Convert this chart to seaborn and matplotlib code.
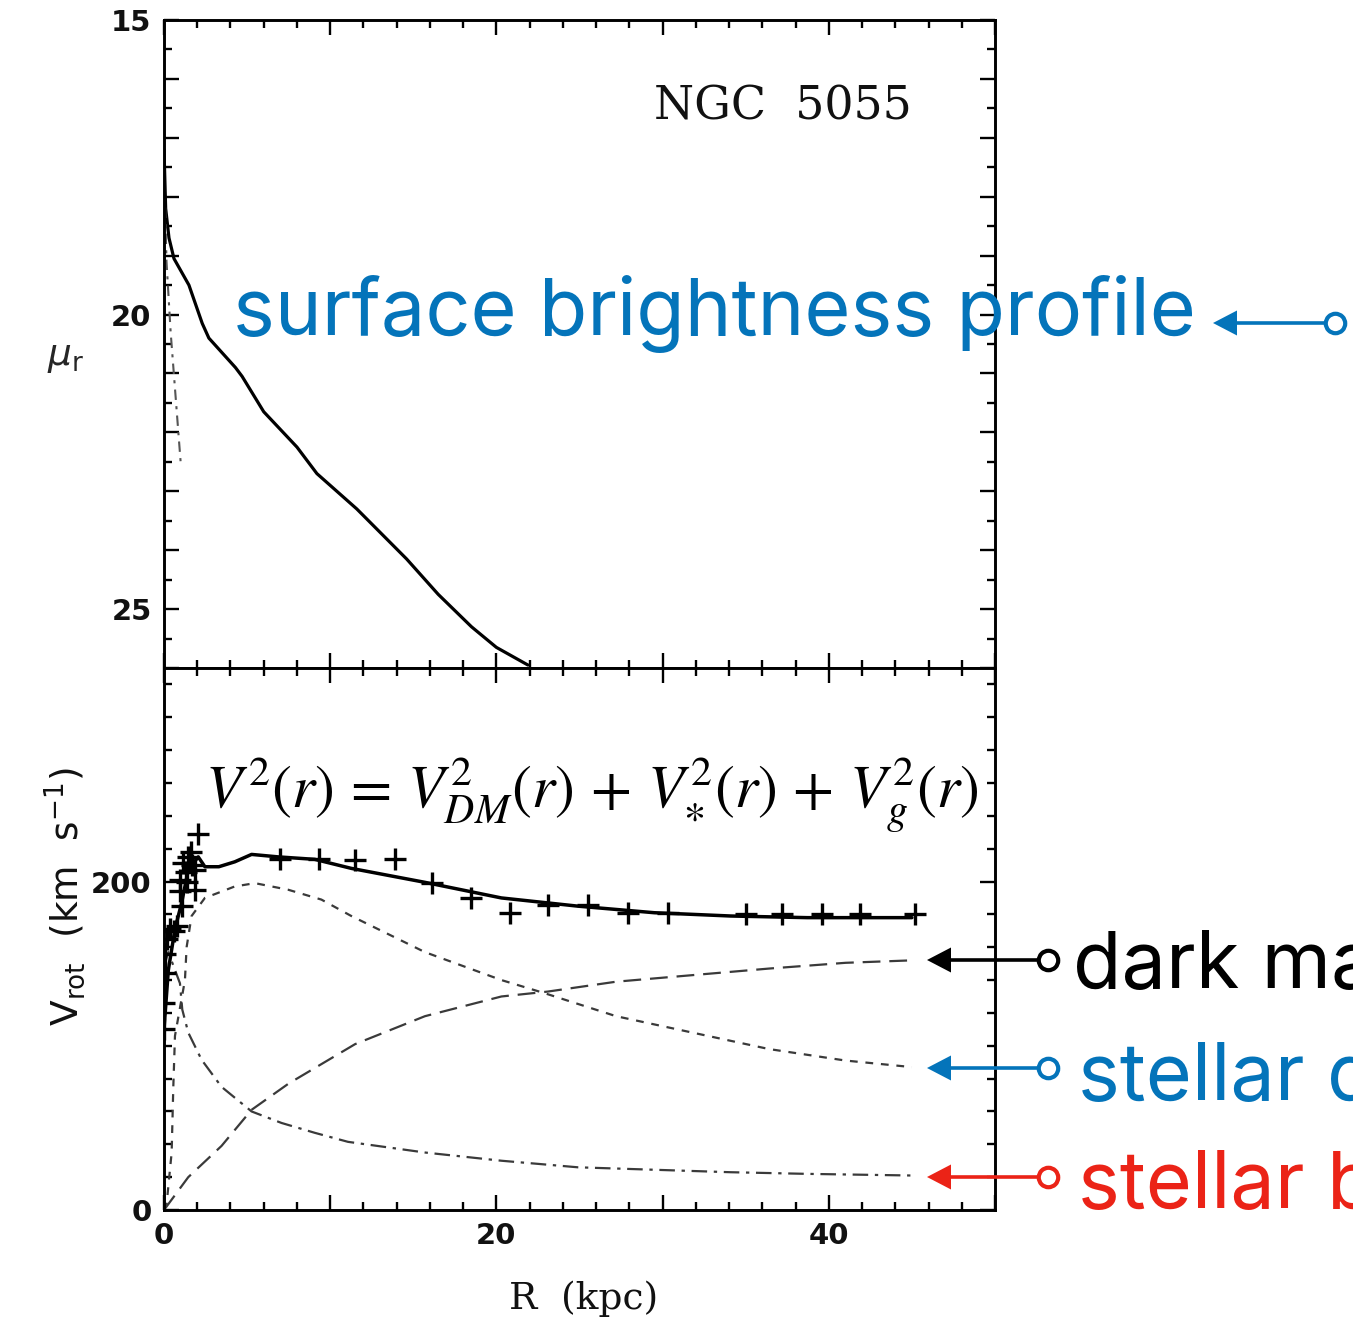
import numpy as np
import pandas as pd
import matplotlib
matplotlib.use("Agg")
import matplotlib.pyplot as plt
import seaborn as sns
from matplotlib.ticker import MultipleLocator, FuncFormatter
from matplotlib.lines import Line2D
from matplotlib.patches import Polygon

# ---------------- data ----------------
# r-band surface brightness profile of NGC 5055 (mag arcsec^-2)
sb_R = [0.0, 0.1, 0.3, 0.6, 1.5, 2.3, 2.7, 4.3, 4.7, 6.0, 8.0, 9.2, 11.6,
        14.6, 16.5, 18.5, 20.0, 21.9]
sb_mu = [17.2, 18.2, 18.7, 19.05, 19.5, 20.15, 20.4, 20.9, 21.05, 21.65,
         22.25, 22.7, 23.3, 24.15, 24.75, 25.3, 25.65, 25.95]

# bulge part of the light profile
bsb_R = [0.0, 0.05, 0.15, 0.4, 0.7, 1.0]
bsb_mu = [17.3, 18.0, 19.1, 20.3, 21.4, 22.5]

# observed rotation velocities (km/s)
obs_R = [0.0, 0.0, 0.06, 0.06, 0.2, 0.36, 0.6, 0.76, 0.96, 0.96, 1.1, 1.16,
         1.3, 1.4, 1.46, 1.6, 1.7, 1.86, 1.86, 2.06,
         7.0, 9.3, 11.5, 13.9, 16.1, 18.5, 20.8, 23.1, 25.5, 27.9, 30.3,
         35.0, 37.2, 39.6, 41.9, 45.2]
obs_V = [110, 126, 144, 156, 165, 171, 170, 173, 194, 201, 185, 211,
         206, 200, 215, 218, 210, 207, 195, 229,
         214, 214, 213, 214, 199, 190, 181, 186, 186, 181, 181,
         180, 180, 180, 180, 180]

# model rotation curve and its components (km/s)
tot_R = [0.0, 0.26, 0.66, 1.06, 1.46, 2.06, 2.46, 3.3, 4.26, 5.27, 6.87,
         9.07, 11.27, 15.7, 20.3, 24.9, 29.5, 34.1, 38.7, 45.0]
tot_V = [110, 146, 171, 187, 207, 215, 209, 209, 212, 216.5, 215, 213.5,
         208, 199.5, 190, 185, 181, 179, 178, 178]

disk_R = [0.0, 0.16, 0.46, 0.56, 0.66, 1.26, 1.36, 1.66, 2.46, 4.26, 5.47,
          7.47, 9.47, 11.27, 15.7, 20.3, 22.9, 27.2, 31.8, 36.4, 41.0, 45.0]
disk_V = [0, 4, 35, 75, 106, 140, 160, 179, 190, 197, 199, 195, 189, 179,
          157, 140, 132, 118, 108, 98, 91, 87]

halo_R = [0.0, 1.46, 3.46, 5.27, 7.5, 9.5, 11.5, 15.7, 20.3, 23.1, 27.2,
          31.8, 36.4, 41.0, 45.0]
halo_V = [0, 20, 39, 61, 77, 89, 101, 118, 130, 133, 139, 143, 147, 150.5,
          152]

bulge_R = [0.05, 0.26, 0.96, 1.1, 1.46, 2.26, 3.46, 5.27, 7.07, 9.07, 11.07,
           15.7, 20.3, 24.9, 29.5, 34.1, 38.7, 45.0]
bulge_V = [150, 157, 138, 122, 108, 91.5, 75, 60, 53, 47, 41.5, 35, 30, 26,
           24.5, 23, 22, 21]

x_ticks_labelled = [0, 20, 40]
mu_ticks_labelled = [15, 20, 25]
v_ticks_labelled = [0, 200]

# ---------------- style ----------------
sns.set_theme(style="ticks")
plt.rcParams["font.family"] = ["DejaVu Sans"]
plt.rcParams["mathtext.fontset"] = "dejavusans"

BLUE = "#0474BA"
RED = "#EB2317"
GREY = "#3a3a3a"

W, H, DPI = 1353, 1327, 100
fig = plt.figure(figsize=(W / DPI, H / DPI), dpi=DPI)
fig.patch.set_facecolor("white")


def fx(px):
    return px / W


def fy(py):
    return 1 - py / H


L, R_ = 164, 995
ax_top = fig.add_axes([fx(L), fy(668), (R_ - L) / W, (668 - 20) / H])
ax_bot = fig.add_axes([fx(L), fy(1210), (R_ - L) / W, (1210 - 668) / H])

# ---------------- surface brightness panel ----------------
sns.lineplot(data=pd.DataFrame({"R": sb_R, "mu": sb_mu}), x="R", y="mu",
             ax=ax_top, color="black", lw=2.3, estimator=None, sort=False)
sns.lineplot(data=pd.DataFrame({"R": bsb_R, "mu": bsb_mu}), x="R", y="mu",
             ax=ax_top, color="#555555", lw=1.5, dashes=(5, 3, 1.5, 3),
             estimator=None, sort=False)
ax_top.set_xlim(0, 50)
ax_top.set_ylim(26, 15)
ax_top.set_xlabel("")
ax_top.set_ylabel(r"$\mu_\mathregular{r}$", rotation=0, ha="center",
                  va="center", fontsize=27)
ax_top.yaxis.set_label_coords(-0.118, 0.48)
ax_top.text(0.745, 0.866, "NGC  5055", transform=ax_top.transAxes,
            ha="center", va="center", fontsize=33, family="DejaVu Serif",
            color="#111111")

# ---------------- rotation curve panel ----------------
curves = pd.concat([
    pd.DataFrame({"R": tot_R, "V": tot_V, "curve": "total"}),
    pd.DataFrame({"R": disk_R, "V": disk_V, "curve": "disk"}),
    pd.DataFrame({"R": halo_R, "V": halo_V, "curve": "halo"}),
    pd.DataFrame({"R": bulge_R, "V": bulge_V, "curve": "bulge"}),
], ignore_index=True)

sns.lineplot(data=curves, x="R", y="V", hue="curve", style="curve",
             size="curve",
             palette={"total": "black", "disk": GREY, "halo": GREY,
                      "bulge": GREY},
             dashes={"total": "", "disk": (3.5, 3.5), "halo": (8, 4),
                     "bulge": (7, 3, 1.5, 3)},
             sizes={"total": 2.5, "disk": 1.6, "halo": 1.6, "bulge": 1.6},
             estimator=None, sort=False, legend=False, ax=ax_bot)
sns.scatterplot(x=obs_R, y=obs_V, marker="+", s=260, color="black",
                linewidth=2.4, ax=ax_bot, zorder=4)

ax_bot.set_xlim(0, 50)
ax_bot.set_ylim(0, 330)
ax_bot.set_xlabel("R  (kpc)", family="DejaVu Serif", fontsize=27,
                  color="#111111")
ax_bot.xaxis.set_label_coords(0.505, -0.13)
ax_bot.set_ylabel(r"$\mathregular{V_{rot}\ \ (km\ \ s^{-1})}$", fontsize=27,
                  color="#111111")
ax_bot.yaxis.set_label_coords(-0.092, 0.578)

# ---------------- ticks and frames ----------------
for ax in (ax_top, ax_bot):
    ax.xaxis.set_major_locator(MultipleLocator(10))
    ax.xaxis.set_minor_locator(MultipleLocator(2))
    ax.xaxis.set_major_formatter(FuncFormatter(
        lambda v, _: f"{v:g}" if round(v) in x_ticks_labelled else ""))
    ax.tick_params(which="both", direction="in", top=True, right=True,
                   width=1.7, color="black", labelsize=21,
                   labelcolor="#111111")
    ax.tick_params(which="major", length=11, pad=9)
    ax.tick_params(which="minor", length=5.5)
    for s in ax.spines.values():
        s.set_linewidth(2.1)
        s.set_color("black")

ax_top.tick_params(labelbottom=False)
ax_top.yaxis.set_major_locator(MultipleLocator(1))
ax_top.yaxis.set_minor_locator(MultipleLocator(0.5))
ax_top.yaxis.set_major_formatter(FuncFormatter(
    lambda v, _: f"{v:g}" if round(v) in mu_ticks_labelled
    and abs(v - round(v)) < 1e-6 else ""))

ax_bot.yaxis.set_major_locator(MultipleLocator(200))
ax_bot.yaxis.set_minor_locator(MultipleLocator(20))
ax_bot.yaxis.set_major_formatter(FuncFormatter(
    lambda v, _: f"{v:g}" if round(v) in v_ticks_labelled else ""))

for ax in (ax_top, ax_bot):
    for lab in ax.get_xticklabels() + ax.get_yticklabels():
        lab.set_fontweight("bold")

# ---------------- equation ----------------
fig.text(fx(205), fy(808),
         r"$V^2(r)\,=\,V^2_{DM}(r)\,+\,V^2_{\ast}(r)\,+\,V^2_{g}(r)$",
         fontsize=43, va="baseline", ha="left",
         math_fontfamily="stix", color="black", zorder=10)

# ---------------- annotations ----------------
ANN_FONT = ["Inter", "DejaVu Sans"]
ANN_SIZE = 57


def pointer(y, x_tip, x_ring, color):
    fig.add_artist(Line2D([fx(x_tip + 20), fx(x_ring)], [fy(y), fy(y)],
                          transform=fig.transFigure, color=color, lw=2.6,
                          solid_capstyle="butt", zorder=10))
    fig.add_artist(Polygon([[fx(x_tip), fy(y)],
                            [fx(x_tip + 24), fy(y - 12.5)],
                            [fx(x_tip + 24), fy(y + 12.5)]],
                           closed=True, transform=fig.transFigure,
                           facecolor=color, edgecolor="none", zorder=10))
    fig.add_artist(Line2D([fx(x_ring)], [fy(y)], transform=fig.transFigure,
                          marker="o", ms=14, mfc="white", mec=color,
                          mew=3.0, zorder=11))


fig.text(fx(233), fy(335), "surface brightness profile", color=BLUE,
         fontsize=ANN_SIZE, family=ANN_FONT, va="baseline", ha="left",
         zorder=10)
pointer(323, 1213, 1335, BLUE)

fig.text(fx(1073), fy(988), "dark matter halo", color="black",
         fontsize=ANN_SIZE, family=ANN_FONT, va="baseline", ha="left",
         zorder=10)
pointer(960, 927, 1048, "black")

fig.text(fx(1078), fy(1100), "stellar disk", color=BLUE,
         fontsize=ANN_SIZE, family=ANN_FONT, va="baseline", ha="left",
         zorder=10)
pointer(1068, 927, 1048, BLUE)

fig.text(fx(1078), fy(1208), "stellar bulge", color=RED,
         fontsize=ANN_SIZE, family=ANN_FONT, va="baseline", ha="left",
         zorder=10)
pointer(1177, 927, 1048, RED)

fig.savefig("out.png", dpi=DPI, facecolor="white")
